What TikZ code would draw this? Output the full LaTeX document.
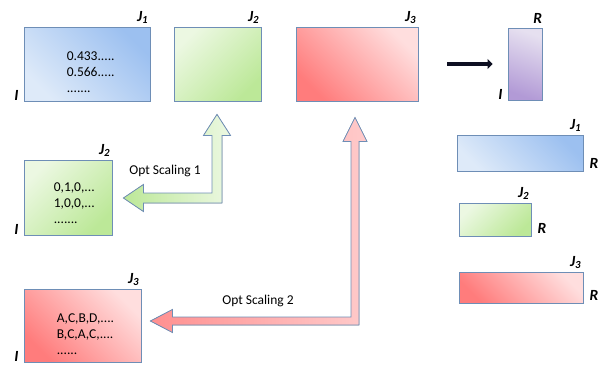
\documentclass[tikz,border=0pt]{standalone}
\usepackage{fontspec}
\setmainfont{Carlito}
\usetikzlibrary{arrows.meta}
\definecolor{edge}{RGB}{110,142,182}
\definecolor{bluelight}{RGB}{222,234,249}
\definecolor{bluedark}{RGB}{156,192,240}
\definecolor{greenlight}{RGB}{236,248,226}
\definecolor{greendark}{RGB}{188,232,152}
\definecolor{redlight}{RGB}{255,222,222}
\definecolor{reddark}{RGB}{255,124,124}
\definecolor{purplelight}{RGB}{230,224,240}
\definecolor{purpledark}{RGB}{178,154,214}
\definecolor{navy}{RGB}{14,16,34}
\tikzset{
  box/.style={draw=edge,line width=0.8pt,inner sep=0pt},
  bluebox/.style={box,top color=bluedark,bottom color=bluelight,shading angle=-45},
  greenbox/.style={box,top color=greenlight,bottom color=greendark,shading angle=45},
  redbox/.style={box,top color=redlight,bottom color=reddark,shading angle=-45},
  purplebox/.style={box,top color=purplelight,bottom color=purpledark,shading angle=-20},
  lab/.style={font=\fontsize{15.5}{15}\selectfont\bfseries\itshape,inner sep=0pt},
  txt/.style={font=\fontsize{13.5}{16}\selectfont,align=left,anchor=west,inner sep=0pt},
  opt/.style={font=\fontsize{13.5}{14}\selectfont,inner sep=0pt},
  garrow/.style={draw=edge,line width=0.8pt,left color=greendark,right color=greenlight},
  rarrow/.style={draw=edge,line width=0.8pt,left color=reddark!85,right color=redlight!80!reddark}
}
\begin{document}
\begin{tikzpicture}[x=1pt,y=-1pt]
\useasboundingbox (0,0) rectangle (598,367);
\foreach \n/\s/\x/\y/\w/\h in {b1/bluebox/87/64/126/74,g1/greenbox/217.5/64/87/74,r1/redbox/357/64/122/74,p/purplebox/525/64/34/72,g2/greenbox/68/197.5/88/75,r2/redbox/82.5/325.5/117/73,bR/bluebox/520/153/126/36,gR/greenbox/495/219.5/72/33,rR/redbox/521/287.5/124/31}
\node (\n)[\s,minimum width=\w pt,minimum height=\h pt] at (\x,\y) {};
\foreach \b/\t in {b1/1,g1/2,r1/3,g2/2,r2/3,bR/1,gR/2,rR/3}
\node (j\b)[lab,anchor=south east] at ([shift={(-2,-3)}]\b.north east) {J\textsubscript{\t}};
\node (rp)[lab,anchor=south east] at ([shift={(0,-4)}]p.north east) {R};
\foreach \b in {bR,gR,rR}
\node (r\b)[lab,anchor=south west] at ([shift={(6,-3)}]\b.south east) {R};
\foreach \b in {b1,p,g2,r2}
\node (i\b)[lab,anchor=south east] at ([shift={(-5,-1)}]\b.south west) {I};
% matrix entries
\node (t1)[txt] at ([shift={(43,8)}]b1.west) {0.433.....\\0.566.....\\.......};
\node (t2)[txt] at ([shift={(30,6)}]g2.west) {0,1,0,...\\1,0,0,...\\.......};
\node (t3)[txt] at ([shift={(33,8.5)}]r2.west) {A,C,B,D,....\\B,C,A,C,....\\......};
\node (o1)[opt] at (165,171) {Opt Scaling 1};
\node (o2)[opt] at (258,301) {Opt Scaling 2};
\draw[navy,line width=4pt,-{Triangle[length=5pt,width=10pt]},shorten <=29pt,shorten >=15pt] (r1) -- (p);
% block arrows
\coordinate (up1) at ([shift={(-0.5,13)}]g1.south);
\coordinate (lt1) at ([shift={(11,0.5)}]g2.east);
\coordinate (up2) at ([shift={(-2,16)}]r1.south);
\coordinate (lt2) at ([shift={(9,-4.5)}]r2.east);
\filldraw[garrow] (up1) -- ++(13.5,21) -- ++(-8.5,0) |- ([shift={(20,5)}]lt1) -- ++(0,8.5) -- (lt1) -- ++(20,-13.5) -- ++(0,8.5) -| ([shift={(-5,21)}]up1) -- ++(-8.5,0) -- cycle;
\filldraw[rarrow] (up2) -- ++(12,24) -- ++(-8,0) |- ([shift={(22,4)}]lt2) -- ++(0,7.5) -- (lt2) -- ++(22,-11.5) -- ++(0,7.5) -| ([shift={(-4,24)}]up2) -- ++(-8,0) -- cycle;
\end{tikzpicture}
\end{document}
